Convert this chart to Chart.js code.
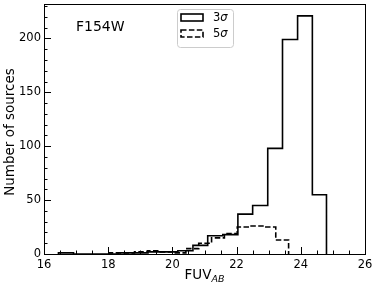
<!DOCTYPE html>
<html>
<head>
<meta charset="utf-8">
<script src="https://cdn.jsdelivr.net/npm/chart.js@4/dist/chart.umd.min.js"></script>
<style>
  html, body { margin: 0; padding: 0; background: #fff; }
  #wrap { width: 374px; height: 288px; }
</style>
</head>
<body>
<div id="wrap"><canvas id="histo" width="374" height="288"></canvas></div>
<script>
// Axes
const xTicks = [16, 18, 20, 22, 24, 26];
const yTicks = [0, 50, 100, 150, 200];

// Histogramme 3 sigma : bords des classes et effectifs
const edges3 = [16.45, 16.92, 17.38, 17.85, 18.31, 18.78, 19.24, 19.71, 20.17, 20.64,
                21.10, 21.57, 22.04, 22.50, 22.97, 23.43, 23.90, 24.36, 24.80];
const counts3 = [1, 0, 0, 0, 1, 1, 2, 2, 3, 8, 17, 18, 37, 45, 98, 199, 221, 55];

// Histogramme 5 sigma
const edges5 = [18.02, 18.42, 18.82, 19.22, 19.62, 20.02, 20.42, 20.82, 21.22, 21.62,
                22.02, 22.42, 22.82, 23.22, 23.62];
const counts5 = [1, 1, 2, 3, 2, 1, 5, 10, 15, 19, 25, 26, 25, 13];

const FONT = 'DejaVu Sans';

// Contour en escalier (comme histtype='step') : palier horizontal puis saut vertical
function stepPoints(edges, counts) {
    const pts = [{ x: edges[0], y: 0 }, { x: edges[0], y: counts[0] }];
    counts.forEach((c, i) => pts.push({ x: edges[i + 1], y: i + 1 < counts.length ? counts[i + 1] : 0 }));
    return pts;
}

// Cadre, graduations internes, légende et titres
const decor = {
    id: 'decor',
    afterDatasetsDraw(chart) {
        const { ctx, chartArea: a, scales: { x, y } } = chart;
        ctx.save();
        ctx.strokeStyle = '#000';
        ctx.lineWidth = 1;
        ctx.strokeRect(Math.round(a.left) + 0.5, Math.round(a.top) + 0.5,
                       Math.round(a.right - a.left), Math.round(a.bottom - a.top));

        ctx.beginPath();
        for (let v = x.min; v <= x.max + 1e-9; v += 0.5) {
            const px = Math.round(x.getPixelForValue(v)) + 0.5;
            const len = xTicks.includes(v) ? 7 : 3.5;
            ctx.moveTo(px, a.bottom);
            ctx.lineTo(px, a.bottom - len);
        }
        for (let v = 0; v <= y.max; v += 10) {
            const py = Math.round(y.getPixelForValue(v)) + 0.5;
            const len = yTicks.includes(v) ? 7 : 3.5;
            ctx.moveTo(a.left, py);
            ctx.lineTo(a.left + len, py);
        }
        ctx.stroke();

        // Légende
        ctx.fillStyle = 'rgba(255,255,255,0.85)';
        ctx.strokeStyle = '#cccccc';
        ctx.beginPath();
        ctx.roundRect(177.5, 9.5, 56, 38, 3);
        ctx.fill();
        ctx.stroke();

        ctx.strokeStyle = '#000';
        ctx.lineWidth = 1.6;
        ctx.strokeRect(181, 14, 22, 7);
        ctx.setLineDash([5.5, 2.4]);
        ctx.strokeRect(181, 30, 22, 7);
        ctx.setLineDash([]);

        ctx.fillStyle = '#000';
        ctx.textBaseline = 'middle';
        ctx.textAlign = 'left';
        [['3', 18], ['5', 34]].forEach(([d, ty]) => {
            ctx.font = '11.5px "' + FONT + '"';
            ctx.fillText(d, 213, ty);
            const w = ctx.measureText(d).width;
            ctx.font = 'italic 11.5px "' + FONT + '"';
            ctx.fillText('σ', 213 + w, ty);
        });

        // Nom du filtre
        ctx.textBaseline = 'alphabetic';
        ctx.font = '14px "' + FONT + '"';
        ctx.fillText('F154W', 76, 31);

        // Titre de l'axe X avec indice
        ctx.font = '13.5px "' + FONT + '"';
        const w1 = ctx.measureText('FUV').width;
        ctx.font = 'italic 9.5px "' + FONT + '"';
        const w2 = ctx.measureText('AB').width;
        const x0 = (a.left + a.right) / 2 - (w1 + w2) / 2;
        ctx.font = '13.5px "' + FONT + '"';
        ctx.fillText('FUV', x0, 279);
        ctx.font = 'italic 9.5px "' + FONT + '"';
        ctx.fillText('AB', x0 + w1, 282);

        // Titre de l'axe Y
        ctx.translate(10, (a.top + a.bottom) / 2 + 3);
        ctx.rotate(-Math.PI / 2);
        ctx.textAlign = 'center';
        ctx.textBaseline = 'middle';
        ctx.font = '13.5px "' + FONT + '"';
        ctx.fillText('Number of sources', 0, 0);
        ctx.restore();
    }
};

new Chart(document.getElementById('histo').getContext('2d'), {
    type: 'line',
    data: {
        datasets: [
            {
                label: '3σ',
                data: stepPoints(edges3, counts3),
                borderColor: '#000',
                borderWidth: 1.6,
                stepped: 'before',
                pointRadius: 0,
                fill: false,
                clip: false
            },
            {
                label: '5σ',
                data: stepPoints(edges5, counts5),
                borderColor: '#000',
                borderWidth: 1.6,
                borderDash: [5.5, 2.4],
                stepped: 'before',
                pointRadius: 0,
                fill: false,
                clip: false
            }
        ]
    },
    options: {
        responsive: false,
        animation: false,
        devicePixelRatio: 1,
        layout: { padding: { left: 0, right: 9, top: 4, bottom: 0 } },
        plugins: { legend: { display: false }, tooltip: { enabled: false } },
        scales: {
            x: {
                type: 'linear',
                min: 16,
                max: 26,
                afterBuildTicks: s => { s.ticks = xTicks.map(v => ({ value: v })); },
                afterFit: s => { s.height = 34; s.paddingLeft = 0; s.paddingRight = 0; },
                grid: { display: false, drawTicks: false },
                border: { display: false },
                ticks: { color: '#000', padding: 4, maxRotation: 0, font: { family: FONT, size: 11.5 } }
            },
            y: {
                type: 'linear',
                min: 0,
                max: 232,
                afterBuildTicks: s => { s.ticks = yTicks.map(v => ({ value: v })); },
                afterFit: s => { s.width = 44; s.paddingTop = 0; s.paddingBottom = 0; },
                grid: { display: false, drawTicks: false },
                border: { display: false },
                ticks: { color: '#000', padding: 3, font: { family: FONT, size: 11.5 } }
            }
        }
    },
    plugins: [decor]
});
</script>
</body>
</html>
